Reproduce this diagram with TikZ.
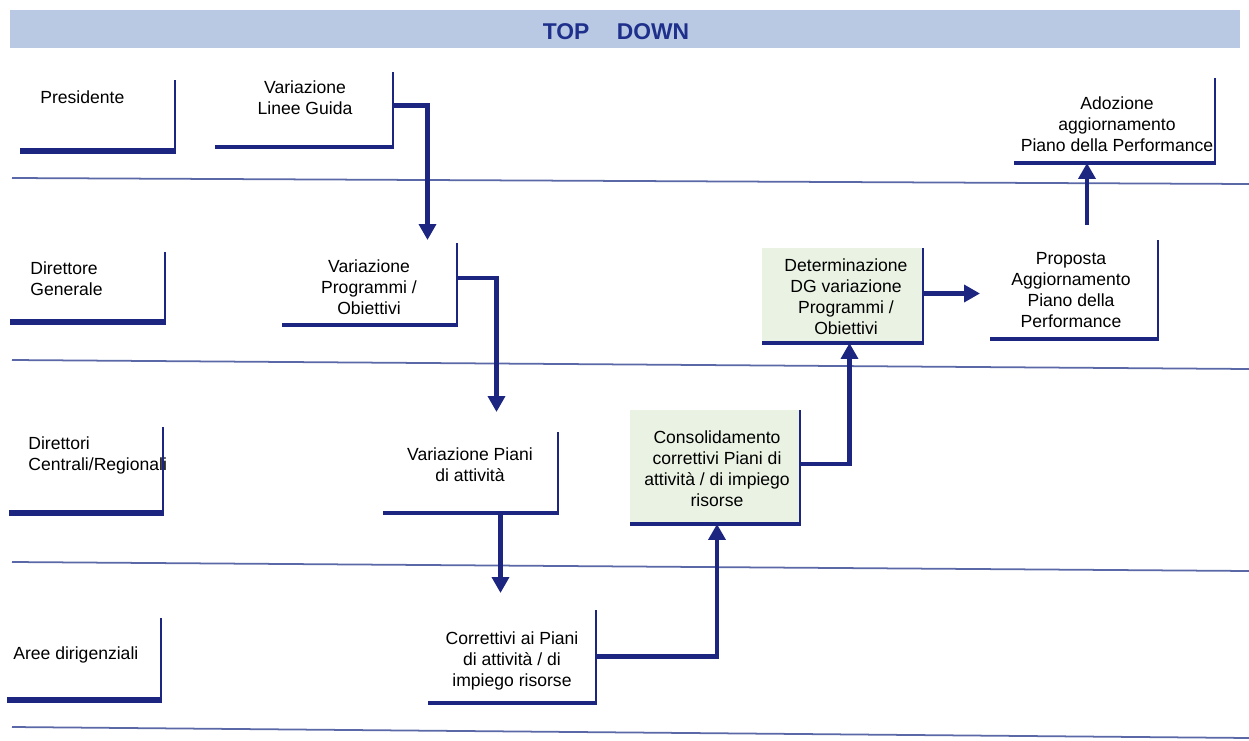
\documentclass[tikz,border=0pt]{standalone}
\usepackage{fontspec}
\setmainfont{Liberation Sans}
\usetikzlibrary{arrows.meta,calc,fit}
\definecolor{navy}{HTML}{1C2680}
\definecolor{bandblue}{HTML}{B9C9E3}
\definecolor{sepblue}{HTML}{5A68A8}
\definecolor{greenbox}{HTML}{EAF3E3}
\definecolor{titleblue}{HTML}{1E2F8C}
\begin{document}
\begin{tikzpicture}[x=0.02cm,y=-0.02cm,
  fitbox/.style={inner sep=0pt,outer sep=0pt,fit={#1}},
  txt/.style={align=center,inner sep=0pt,font=\fontsize{10pt}{12pt}\selectfont},
  lanetxt/.style={align=left,anchor=west,inner sep=0pt,font=\fontsize{10pt}{12pt}\selectfont},
  vline/.style={draw=navy,line width=1.2pt},
  lanebase/.style={draw=navy,line width=3.4pt},
  procbase/.style={draw=navy,line width=1.8pt},
  sepline/.style={draw=sepblue,line width=1pt},
  arr/.style={draw=navy,line width=2.8pt,-{Triangle[width=9.5pt,length=9pt]}},
  greenfill/.style={fill=greenbox}
]
\useasboundingbox (0,0) rectangle (1249,741);

% header band
\node[fitbox={(10,10)(1240,48)},fill=bandblue] (band) {};
\node[inner sep=0pt,font=\fontsize{13pt}{15pt}\selectfont\bfseries,text=titleblue] (title) at (616,32) {TOP\hspace{1.2em}DOWN};

% separator lines
\draw[sepline] (12,178) -- (1249,184);
\draw[sepline] (12,360) -- (1249,369);
\draw[sepline] (12,562) -- (1249,571);
\draw[sepline] (12,727) -- (1249,738);

% lane labels
\node[fitbox={(20,80)(175,151)}] (L1) {};
\node[lanetxt] (L1t) at (40,97) {Presidente};
\node[fitbox={(10,252)(165,322)}] (L2) {};
\node[lanetxt] (L2t) at (30,279) {Direttore\\Generale};
\node[fitbox={(9,427)(163,513)}] (L3) {};
\node[lanetxt] (L3t) at (28,455) {Direttori\\Centrali/Regionali};
\node[fitbox={(7,618)(161,700)}] (L4) {};
\node[lanetxt] (L4t) at (13,655) {Aree dirigenziali};
\foreach \n in {L1,L2,L3,L4}{
  \draw[lanebase] (\n.south west) -- ([xshift=0.6pt]\n.south east);
  \draw[vline] (\n.north east) -- (\n.south east);
}

% process boxes
\node[fitbox={(215,72)(393,147)}] (A) {};
\node[txt] (At) at (305,98) {Variazione\\Linee Guida};
\node[fitbox={(282,243)(457,325)}] (B) {};
\node[txt] (Bt) at (369,287) {Variazione\\Programmi /\\Obiettivi};
\node[fitbox={(383,432)(558,513)}] (C) {};
\node[txt] (Ct) at (470,465) {Variazione Piani\\di attività};
\node[fitbox={(428,610)(596,703)}] (D) {};
\node[txt] (Dt) at (512,661) {Correttivi ai Piani\\di attività / di\\impiego risorse};
\node[fitbox={(630,410)(800,524)},greenfill] (E) {};
\node[txt] (Et) at (717,469) {Consolidamento\\correttivi Piani di\\attività / di impiego\\risorse};
\node[fitbox={(762,248)(923,343)},greenfill] (F) {};
\node[txt] (Ft) at (846,297) {Determinazione\\DG variazione\\Programmi /\\Obiettivi};
\node[fitbox={(990,240)(1158,339)}] (G) {};
\node[txt] (Gt) at (1071,290) {Proposta\\Aggiornamento\\Piano della\\Performance};
\node[fitbox={(1014,78)(1215,163)}] (H) {};
\node[txt] (Ht) at (1117,124) {Adozione\\aggiornamento\\Piano della Performance};
\foreach \n in {A,B,C,D,E,F,G,H}{
  \draw[procbase] (\n.south west) -- ([xshift=0.6pt]\n.south east);
  \draw[vline] (\n.north east) -- (\n.south east);
}

% connectors
\draw[arr] ($(A.east)+(0,-4)$) -| ($(B.north)+(58,-3)$);
\draw[arr] ($(B.east)+(0,-6)$) -| ($(C.north)+(26,-20)$);
\coordinate (cd) at ($(C.south)+(30,0)$);
\draw[arr,shorten >=0.34cm] (cd) -- (cd |- D.north);
\draw[arr] (D.east) -| ($(E.south)+(2,0)$);
\draw[arr] ($(E.east)+(0,-3)$) -| ($(F.south)+(7,0)$);
\coordinate (fg) at ($(F.east)+(0,-2)$);
\draw[arr,shorten >=0.2cm] (fg) -- (fg -| G.west);
\coordinate (gh) at ($(G.north)+(13,0)$);
\draw[arr,shorten <=0.3cm] (gh) -- (gh |- H.south);
\end{tikzpicture}
\end{document}
